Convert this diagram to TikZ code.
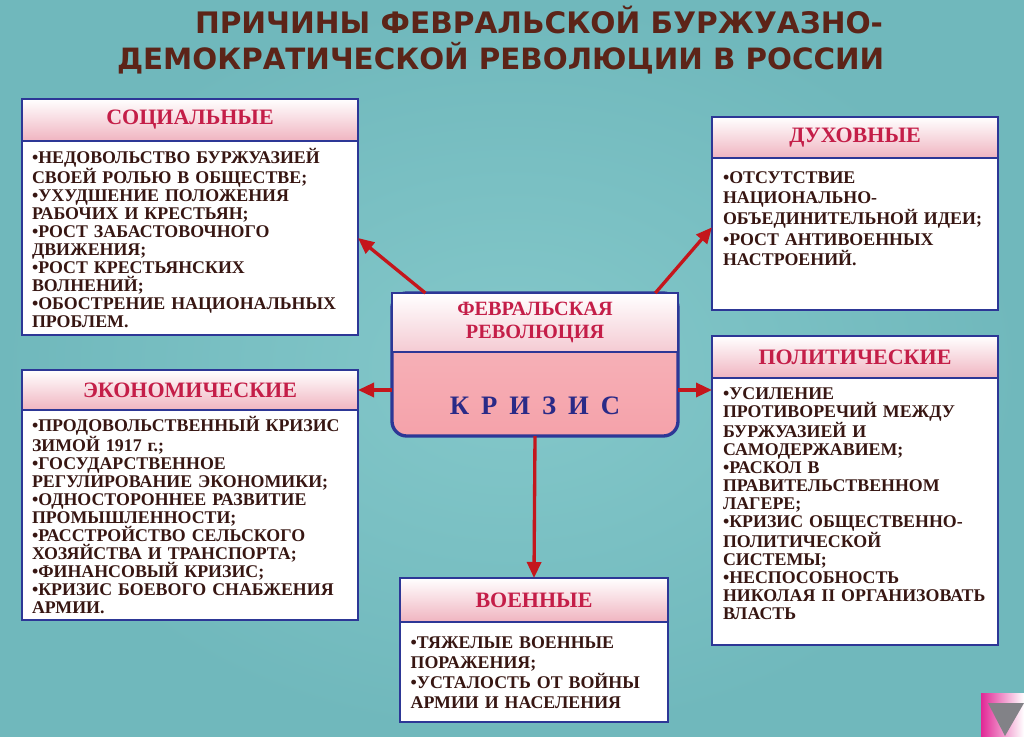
\documentclass[tikz,border=0pt]{standalone}
\usepackage{fontspec}
\setmainfont{Liberation Serif}
\newfontfamily\titlefont{DejaVu Sans}
\usetikzlibrary{positioning}
\usetikzlibrary{arrows.meta}

\definecolor{bgmid}{RGB}{132,200,202}
\definecolor{bgedge}{RGB}{112,184,188}
\definecolor{frameblue}{RGB}{45,55,150}
\definecolor{cappink}{RGB}{240,180,192}
\definecolor{capred}{RGB}{196,30,72}
\definecolor{itemdark}{RGB}{55,22,18}
\definecolor{titlebrown}{RGB}{92,36,24}
\definecolor{arrowred}{RGB}{196,22,28}
\definecolor{krizpink}{RGB}{245,162,170}
\definecolor{krizblue}{RGB}{42,42,135}
\definecolor{navpink}{RGB}{225,40,150}
\definecolor{navgray}{RGB}{130,130,135}

\begin{document}
\begin{tikzpicture}[x=0.75pt, y=-0.75pt,
  every node/.style={inner sep=0pt, outer sep=0pt},
  caphead/.style={draw=frameblue, line width=1.5pt, top color=white, bottom color=cappink, text=capred, font=\bfseries\fontsize{16.5}{18}\selectfont},
  bodybox/.style={draw=frameblue, line width=1.5pt, fill=white},
  items/.style={align=left, text=itemdark, font=\bfseries\fontsize{13.4}{13.5}\selectfont},
  cause/.style={draw=arrowred, line width=2.5pt, -{Triangle[length=12pt, width=10.5pt]}}]
  \useasboundingbox (0,0) rectangle (1024,736);
  \shade[inner color=bgmid, outer color=bgedge] (0,0) rectangle (1024,736);
  \shade[left color=navpink, right color=white] (981,693) rectangle (1024,736);
  \fill[navgray] (988,703) -- (1024,703) -- (1005,736) -- cycle;

  % title
  \node[anchor=base west, text=titlebrown, font=\titlefont\bfseries\fontsize{22.2}{26}\selectfont] (ttla) at (195,33)
    {ПРИЧИНЫ ФЕВРАЛЬСКОЙ БУРЖУАЗНО-};
  \node[anchor=base west, text=titlebrown, font=\titlefont\bfseries\fontsize{22}{26}\selectfont] (ttlb) at (117,69)
    {ДЕМОКРАТИЧЕСКОЙ РЕВОЛЮЦИИ В РОССИИ};

  \begin{scope}[minimum width=252pt]
    \node[caphead, minimum height=31.5pt, anchor=north] (soc) at (190,99) {СОЦИАЛЬНЫЕ};
    \node[bodybox, minimum height=145.5pt, below=0pt of soc] (socbox) {};
    \node[caphead, minimum height=30pt, anchor=north] (eco) at (190,370) {ЭКОНОМИЧЕСКИЕ};
    \node[bodybox, minimum height=157.5pt, below=0pt of eco] (ecobox) {};
  \end{scope}
  \begin{scope}[minimum width=214.5pt]
    \node[caphead, minimum height=30.75pt, anchor=north] (dux) at (855,117) {ДУХОВНЫЕ};
    \node[bodybox, minimum height=114pt, below=0pt of dux] (duxbox) {};
    \node[caphead, minimum height=31.5pt, anchor=north] (pol) at (855,336) {ПОЛИТИЧЕСКИЕ};
    \node[bodybox, minimum height=200.25pt, below=0pt of pol] (polbox) {};
    \node[draw=frameblue, line width=2.5pt, top color=krizpink!75, bottom color=krizpink,
      rounded corners=11pt, minimum height=107.25pt, anchor=north] (rev) at (535,293) {};
    \node[draw=frameblue, line width=2pt, top color=white, bottom color=cappink!70,
      text=capred, align=center, font=\bfseries\fontsize{15.2}{17.5}\selectfont,
      minimum height=44.25pt, below=0pt of rev.north] (revhead) {ФЕВРАЛЬСКАЯ\\РЕВОЛЮЦИЯ};
  \end{scope}
  \node[text=krizblue, font=\bfseries\fontsize{20}{24}\selectfont,
    below=33.75pt of revhead] (kriz) {\spaceskip=0.45em\relax К Р И З И С};
  \node[caphead, minimum width=201pt, minimum height=33pt, anchor=north] (mil) at (534,578) {ВОЕННЫЕ};
  \node[bodybox, minimum width=201pt, minimum height=75pt, below=0pt of mil] (milbox) {};

  % lists
  \node[items, text width=245pt, below right=16.5pt and 7.5pt of socbox.north west, anchor=base west] (soctext)
    {•НЕДОВОЛЬСТВО БУРЖУАЗИЕЙ\\СВОЕЙ РОЛЬЮ В ОБЩЕСТВЕ;\\•УХУДШЕНИЕ ПОЛОЖЕНИЯ\\РАБОЧИХ И КРЕСТЬЯН;\\
     •РОСТ ЗАБАСТОВОЧНОГО\\ДВИЖЕНИЯ;\\•РОСТ КРЕСТЬЯНСКИХ\\ВОЛНЕНИЙ;\\•ОБОСТРЕНИЕ НАЦИОНАЛЬНЫХ\\ПРОБЛЕМ.};
  \node[items, text width=245pt, below right=15.75pt and 7.5pt of ecobox.north west, anchor=base west] (ecotext)
    {•ПРОДОВОЛЬСТВЕННЫЙ КРИЗИС\\ЗИМОЙ 1917 г.;\\•ГОСУДАРСТВЕННОЕ\\РЕГУЛИРОВАНИЕ ЭКОНОМИКИ;\\
     •ОДНОСТОРОННЕЕ РАЗВИТИЕ\\ПРОМЫШЛЕННОСТИ;\\•РАССТРОЙСТВО СЕЛЬСКОГО\\ХОЗЯЙСТВА И ТРАНСПОРТА;\\
     •ФИНАНСОВЫЙ КРИЗИС;\\•КРИЗИС БОЕВОГО СНАБЖЕНИЯ\\АРМИИ.};
  \node[items, text width=205pt, font=\bfseries\fontsize{13.4}{15.5}\selectfont,
    below right=18.75pt and 8.25pt of duxbox.north west, anchor=base west] (duxtext)
    {•ОТСУТСТВИЕ\\НАЦИОНАЛЬНО-\\ОБЪЕДИНИТЕЛЬНОЙ ИДЕИ;\\•РОСТ АНТИВОЕННЫХ\\НАСТРОЕНИЙ.};
  \node[items, text width=205pt, below right=15.75pt and 8.25pt of polbox.north west, anchor=base west] (poltext)
    {•УСИЛЕНИЕ\\ПРОТИВОРЕЧИЙ МЕЖДУ\\БУРЖУАЗИЕЙ И\\САМОДЕРЖАВИЕМ;\\•РАСКОЛ В\\ПРАВИТЕЛЬСТВЕННОМ\\ЛАГЕРЕ;\\
     •КРИЗИС ОБЩЕСТВЕННО-\\ПОЛИТИЧЕСКОЙ\\СИСТЕМЫ;\\•НЕСПОСОБНОСТЬ\\НИКОЛАЯ II ОРГАНИЗОВАТЬ\\ВЛАСТЬ};
  \node[items, text width=190pt, font=\bfseries\fontsize{13.4}{15}\selectfont,
    below right=19.5pt and 8pt of milbox.north west, anchor=base west] (miltext)
    {•ТЯЖЕЛЫЕ ВОЕННЫЕ\\ПОРАЖЕНИЯ;\\•УСТАЛОСТЬ ОТ ВОЙНЫ\\АРМИИ И НАСЕЛЕНИЯ};

  % arrows
  \draw[cause] ([xshift=25pt]rev.north west) -- (socbox.east);
  \draw[cause] ([xshift=-17pt]rev.north east) -- ([yshift=5pt]duxbox.west);
  \draw[cause] (rev.west |- eco.east) -- (eco.east);
  \draw[cause] (rev.east |- eco.east) -- (polbox.west |- eco.east);
  \draw[cause] (rev.south) -- (mil.north);
\end{tikzpicture}
\end{document}
